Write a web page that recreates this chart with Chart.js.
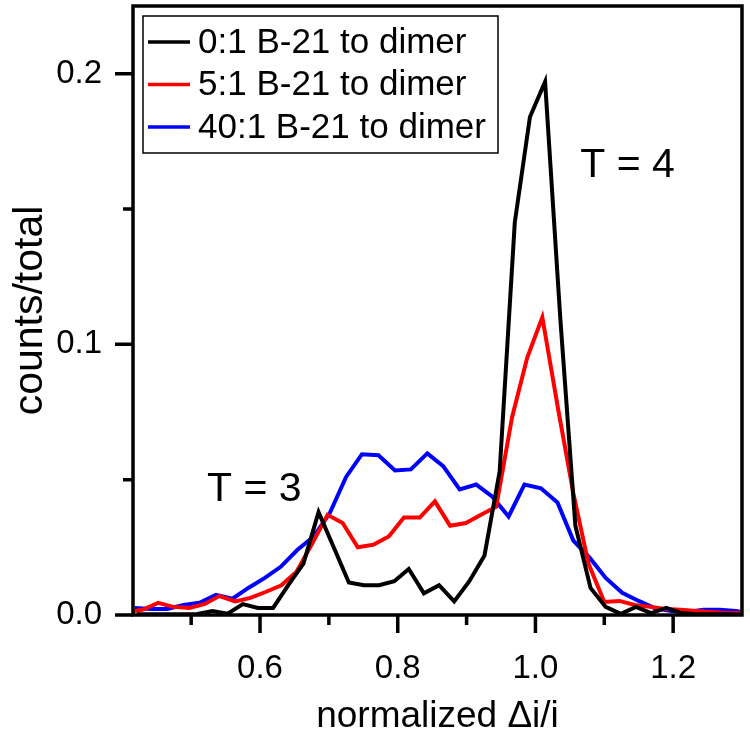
<!DOCTYPE html>
<html>
<head>
<meta charset="utf-8">
<script src="https://cdn.jsdelivr.net/npm/chart.js@4.4.1/dist/chart.umd.min.js"></script>
<style>
  html, body { margin: 0; padding: 0; background: #fff; }
</style>
</head>
<body>
<canvas id="c1" width="750" height="735"></canvas>
<script>
const seriesNames = ['0:1 B-21 to dimer', '5:1 B-21 to dimer', '40:1 B-21 to dimer'];
const seriesColors = ['#000000', '#ff0000', '#0000ff'];

// 0:1 B-21 to dimer
const xBlack = [0.421, 0.443, 0.465, 0.487, 0.509, 0.531, 0.553, 0.575, 0.597, 0.619, 0.641,
  0.663, 0.685, 0.707, 0.729, 0.751, 0.773, 0.795, 0.816, 0.838, 0.860, 0.882, 0.904, 0.926,
  0.948, 0.970, 0.992, 1.014, 1.036, 1.058, 1.080, 1.102, 1.124, 1.146, 1.168, 1.190, 1.212,
  1.234, 1.256, 1.278, 1.299];
const yBlack = [0.0003, 0.0003, 0.0003, 0.0003, 0.0004, 0.0015, 0.0005, 0.004, 0.0026, 0.0026, 0.011,
  0.019, 0.038, 0.025, 0.012, 0.011, 0.011, 0.0125, 0.017, 0.008, 0.011, 0.005, 0.0125, 0.022,
  0.053, 0.145, 0.184, 0.197, 0.110, 0.033, 0.010, 0.003, 0.0004, 0.003, 0.0007, 0.0026, 0.0007,
  0.0003, 0.0003, 0.0003, 0.0002];

// 5:1 B-21 to dimer
const xRed = [0.407, 0.430, 0.452, 0.474, 0.497, 0.519, 0.541, 0.564, 0.586, 0.608, 0.631,
  0.653, 0.675, 0.698, 0.720, 0.742, 0.765, 0.787, 0.809, 0.832, 0.854, 0.876, 0.899, 0.921,
  0.943, 0.966, 0.988, 1.010, 1.033, 1.055, 1.077, 1.100, 1.122, 1.144, 1.167, 1.189, 1.211,
  1.234, 1.256, 1.278, 1.301];
const yRed = [0.001, 0.002, 0.0045, 0.003, 0.0026, 0.004, 0.007, 0.005, 0.0063, 0.0085, 0.011,
  0.016, 0.026, 0.037, 0.034, 0.025, 0.026, 0.029, 0.036, 0.036, 0.042, 0.033, 0.034, 0.037,
  0.040, 0.073, 0.095, 0.110, 0.076, 0.045, 0.019, 0.0048, 0.0052, 0.0037, 0.003, 0.0022, 0.0019,
  0.0015, 0.0011, 0.0007, 0.0007];

// 40:1 B-21 to dimer
const xBlue = [0.418, 0.442, 0.465, 0.489, 0.512, 0.536, 0.560, 0.583, 0.607, 0.630, 0.654,
  0.678, 0.701, 0.725, 0.748, 0.772, 0.796, 0.819, 0.843, 0.866, 0.890, 0.914, 0.937, 0.961,
  0.984, 1.008, 1.032, 1.055, 1.079, 1.102, 1.126, 1.150, 1.173, 1.197, 1.220, 1.244, 1.268,
  1.291, 1.315];
const yBlue = [0.0026, 0.0022, 0.0022, 0.0037, 0.0045, 0.0074, 0.006, 0.010, 0.0137, 0.0178, 0.024,
  0.029, 0.0375, 0.051, 0.0594, 0.059, 0.0534, 0.0538, 0.0597, 0.055, 0.0464, 0.0482, 0.0438, 0.0364,
  0.0482, 0.0468, 0.0416, 0.0275, 0.0211, 0.0137, 0.0082, 0.0052, 0.0026, 0.0015, 0.0011, 0.0019, 0.0019,
  0.0015, 0.0004];

const xMajor = [0.6, 0.8, 1.0, 1.2];
const xMinor = [0.5, 0.7, 0.9, 1.1];
const yMajor = [0.0, 0.1, 0.2];
const yMinor = [0.05, 0.15];

const peakNotes = ['T = 3', 'T = 4'];
const peakNoteX = [0.523, 1.065];
const peakNoteY = [0.0423, 0.1618];

const FONT = "'Liberation Sans', Arial, Helvetica, sans-serif";
Chart.defaults.font.family = FONT;
Chart.defaults.color = '#000';

function toPoints(xs, ys) {
    return xs.map((x, i) => ({ x: x, y: ys[i] }));
}

// frame round the plot plus long/short tick marks
const frameTicks = {
    id: 'frameTicks',
    afterDraw(chart) {
        const { ctx, chartArea: a, scales: { x, y } } = chart;
        ctx.save();
        ctx.strokeStyle = '#000';
        ctx.lineWidth = 3.5;
        ctx.strokeRect(a.left, a.top, a.right - a.left, a.bottom - a.top);
        ctx.beginPath();
        x.ticks.forEach(t => {
            const px = x.getPixelForValue(t.value);
            const len = xMajor.includes(t.value) ? 18 : 10;
            ctx.moveTo(px, a.bottom);
            ctx.lineTo(px, a.bottom + len);
        });
        y.ticks.forEach(t => {
            const py = y.getPixelForValue(t.value);
            const len = yMajor.includes(t.value) ? 18 : 10;
            ctx.moveTo(a.left, py);
            ctx.lineTo(a.left - len, py);
        });
        ctx.stroke();
        ctx.restore();
    }
};

// boxed legend in the top left corner
const boxLegend = {
    id: 'boxLegend',
    afterDraw(chart) {
        const { ctx, chartArea: a } = chart;
        const left = a.left + 10, top = a.top + 10;
        ctx.save();
        ctx.strokeStyle = '#000';
        ctx.lineWidth = 1.5;
        ctx.strokeRect(left, top, 355, 137);
        ctx.font = '35px ' + FONT;
        ctx.textBaseline = 'middle';
        ctx.fillStyle = '#000';
        chart.data.datasets.forEach((ds, i) => {
            const cy = top + 26 + i * 42.5;
            ctx.strokeStyle = ds.borderColor;
            ctx.lineWidth = 3.5;
            ctx.beginPath();
            ctx.moveTo(left + 5, cy);
            ctx.lineTo(left + 47, cy);
            ctx.stroke();
            ctx.fillText(ds.label, left + 55, cy + 1);
        });
        ctx.restore();
    }
};

const notes = {
    id: 'notes',
    afterDraw(chart) {
        const { ctx, scales: { x, y } } = chart;
        ctx.save();
        ctx.font = '41px ' + FONT;
        ctx.fillStyle = '#000';
        ctx.textBaseline = 'alphabetic';
        peakNotes.forEach((txt, i) => {
            ctx.fillText(txt, x.getPixelForValue(peakNoteX[i]), y.getPixelForValue(peakNoteY[i]));
        });
        ctx.restore();
    }
};

const datasets = [
    { label: seriesNames[0], data: toPoints(xBlack, yBlack), borderColor: seriesColors[0] },
    { label: seriesNames[1], data: toPoints(xRed, yRed), borderColor: seriesColors[1] },
    { label: seriesNames[2], data: toPoints(xBlue, yBlue), borderColor: seriesColors[2] }
].map(d => Object.assign(d, { borderWidth: 4, pointRadius: 0, tension: 0, fill: false }));

function noEdgePadding(s) {
    s.paddingTop = 0;
    s.paddingBottom = 0;
    s.paddingLeft = 0;
    s.paddingRight = 0;
}

new Chart(document.getElementById('c1'), {
    type: 'line',
    data: { datasets: datasets },
    options: {
        responsive: false,
        animation: false,
        layout: { padding: { top: 6, right: 8, left: 0, bottom: 0 } },
        plugins: {
            legend: { display: false },
            tooltip: { enabled: false }
        },
        scales: {
            x: {
                type: 'linear',
                min: 0.4155,
                max: 1.3,
                afterBuildTicks: s => {
                    s.ticks = xMajor.concat(xMinor).sort((a, b) => a - b).map(v => ({ value: v }));
                },
                afterFit: s => { s.height = 120; noEdgePadding(s); },
                ticks: {
                    font: { size: 33 },
                    padding: 16,
                    maxRotation: 0,
                    autoSkip: false,
                    callback: v => xMajor.includes(v) ? v.toFixed(1) : ''
                },
                grid: { display: true, drawOnChartArea: false, drawTicks: true, tickLength: 18, tickColor: 'rgba(0,0,0,0)' },
                border: { display: false },
                title: {
                    display: true,
                    text: 'normalized \u0394i/i',
                    font: { size: 37, lineHeight: 1 },
                    padding: { top: 0, bottom: 0 }
                }
            },
            y: {
                min: 0,
                max: 0.225,
                afterBuildTicks: s => {
                    s.ticks = yMajor.concat(yMinor).sort((a, b) => a - b).map(v => ({ value: v }));
                },
                afterFit: s => { s.width = 133; noEdgePadding(s); },
                ticks: {
                    font: { size: 33 },
                    padding: 13,
                    autoSkip: false,
                    callback: v => yMajor.includes(v) ? v.toFixed(1) : ''
                },
                grid: { display: true, drawOnChartArea: false, drawTicks: true, tickLength: 18, tickColor: 'rgba(0,0,0,0)' },
                border: { display: false },
                title: {
                    display: true,
                    text: 'counts/total',
                    font: { size: 41, lineHeight: 1 },
                    padding: { top: 10, bottom: 0 }
                }
            }
        }
    },
    plugins: [frameTicks, boxLegend, notes]
});
</script>
</body>
</html>
